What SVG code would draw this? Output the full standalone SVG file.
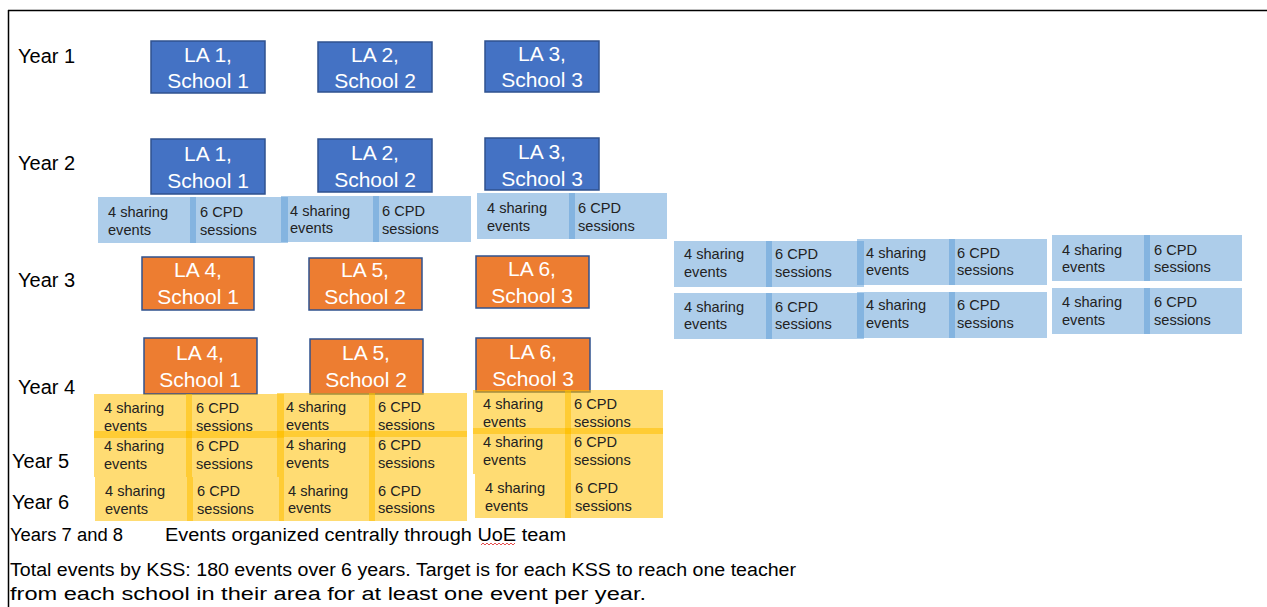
<svg xmlns="http://www.w3.org/2000/svg" width="1267" height="607" viewBox="0 0 1267 607">
<defs>
<style>
text{font-family:"Liberation Sans",Arial,sans-serif}
.yr{font-size:20px;fill:#000}
.bx{stroke:#2F528F;stroke-width:1.5}
.blue{fill:#4472C4}
.orange{fill:#ED7D31}
.bt{font-size:21px;fill:#fff;text-anchor:middle}
.lb{fill:#5B9BD5;fill-opacity:0.5}
.yl{fill:#FFC000;fill-opacity:0.55}
.st{font-size:14.6px;fill:#222}
.foot{font-size:18px;fill:#000}
</style>
</defs>
<rect width="1267" height="607" fill="#fff"/>
<g id="frame" stroke="#000" stroke-width="1.5" fill="none">
<line x1="8" y1="10.5" x2="1267" y2="10.5"/>
<line x1="8.5" y1="10" x2="8.5" y2="607"/>
</g>
<g id="year-labels">
<text class="yr" x="18" y="63">Year 1</text>
<text class="yr" x="18" y="170">Year 2</text>
<text class="yr" x="18" y="287">Year 3</text>
<text class="yr" x="18" y="394">Year 4</text>
<text class="yr" x="12" y="468">Year 5</text>
<text class="yr" x="12" y="509">Year 6</text>
</g>
<g id="y1-la1"><rect class="bx blue" x="151" y="41" width="114" height="52"/><text class="bt" x="208" y="62">LA 1,</text><text class="bt" x="208" y="88">School 1</text></g>
<g id="y1-la2"><rect class="bx blue" x="318" y="42" width="114" height="50"/><text class="bt" x="375" y="62">LA 2,</text><text class="bt" x="375" y="88">School 2</text></g>
<g id="y1-la3"><rect class="bx blue" x="485" y="41" width="114" height="51"/><text class="bt" x="542" y="61">LA 3,</text><text class="bt" x="542" y="87">School 3</text></g>
<g id="y2-la1"><rect class="bx blue" x="151" y="139" width="114" height="55"/><text class="bt" x="208" y="161">LA 1,</text><text class="bt" x="208" y="188">School 1</text></g>
<g id="y2-la2"><rect class="bx blue" x="318" y="139" width="114" height="53"/><text class="bt" x="375" y="160">LA 2,</text><text class="bt" x="375" y="187">School 2</text></g>
<g id="y2-la3"><rect class="bx blue" x="485" y="138" width="114" height="52"/><text class="bt" x="542" y="159">LA 3,</text><text class="bt" x="542" y="186">School 3</text></g>
<g id="y3-la4"><rect class="bx orange" x="142" y="257" width="112" height="53"/><text class="bt" x="198" y="277">LA 4,</text><text class="bt" x="198" y="304">School 1</text></g>
<g id="y3-la5"><rect class="bx orange" x="309" y="258" width="113" height="52"/><text class="bt" x="365" y="277">LA 5,</text><text class="bt" x="365" y="304">School 2</text></g>
<g id="y3-la6"><rect class="bx orange" x="476" y="256" width="113" height="52"/><text class="bt" x="532" y="276">LA 6,</text><text class="bt" x="532" y="303">School 3</text></g>
<g id="y4-la4"><rect class="bx orange" x="144" y="338" width="113" height="56"/><text class="bt" x="200" y="360">LA 4,</text><text class="bt" x="200" y="387">School 1</text></g>
<g id="y4-la5"><rect class="bx orange" x="310" y="339" width="113" height="55"/><text class="bt" x="366" y="360">LA 5,</text><text class="bt" x="366" y="387">School 2</text></g>
<g id="y4-la6"><rect class="bx orange" x="476" y="338" width="114" height="54"/><text class="bt" x="533" y="359">LA 6,</text><text class="bt" x="533" y="386">School 3</text></g>
<g id="y2-bars">
<g id="y2b1"><rect class="lb" x="98" y="197" width="98" height="46"/><rect class="lb" x="190" y="197" width="98" height="46"/><text class="st" x="108" y="217">4 sharing</text><text class="st" x="108" y="235">events</text><text class="st" x="200" y="217">6 CPD</text><text class="st" x="200" y="235">sessions</text></g>
<g id="y2b2"><rect class="lb" x="281" y="196" width="98" height="46"/><rect class="lb" x="373" y="196" width="98" height="46"/><text class="st" x="290" y="216">4 sharing</text><text class="st" x="290" y="233">events</text><text class="st" x="382" y="216">6 CPD</text><text class="st" x="382" y="234">sessions</text></g>
<g id="y2b3"><rect class="lb" x="477" y="193" width="98" height="46"/><rect class="lb" x="569" y="193" width="98" height="46"/><text class="st" x="487" y="213">4 sharing</text><text class="st" x="487" y="231">events</text><text class="st" x="578" y="213">6 CPD</text><text class="st" x="578" y="231">sessions</text></g>
</g>
<g id="right-bars">
<g id="rA1"><rect class="lb" x="674" y="241" width="98" height="46"/><rect class="lb" x="766" y="241" width="98" height="46"/><text class="st" x="684" y="259">4 sharing</text><text class="st" x="684" y="277">events</text><text class="st" x="775" y="259">6 CPD</text><text class="st" x="775" y="277">sessions</text></g>
<g id="rA2"><rect class="lb" x="857" y="239" width="98" height="46"/><rect class="lb" x="949" y="239" width="98" height="46"/><text class="st" x="866" y="258">4 sharing</text><text class="st" x="866" y="275">events</text><text class="st" x="957" y="258">6 CPD</text><text class="st" x="957" y="275">sessions</text></g>
<g id="rA3"><rect class="lb" x="1052" y="235" width="98" height="46"/><rect class="lb" x="1144" y="235" width="98" height="46"/><text class="st" x="1062" y="255">4 sharing</text><text class="st" x="1062" y="272">events</text><text class="st" x="1154" y="255">6 CPD</text><text class="st" x="1154" y="272">sessions</text></g>
<g id="rB1"><rect class="lb" x="674" y="293" width="98" height="46"/><rect class="lb" x="766" y="293" width="98" height="46"/><text class="st" x="684" y="312">4 sharing</text><text class="st" x="684" y="329">events</text><text class="st" x="775" y="312">6 CPD</text><text class="st" x="775" y="329">sessions</text></g>
<g id="rB2"><rect class="lb" x="857" y="292" width="98" height="46"/><rect class="lb" x="949" y="292" width="98" height="46"/><text class="st" x="866" y="310">4 sharing</text><text class="st" x="866" y="328">events</text><text class="st" x="957" y="310">6 CPD</text><text class="st" x="957" y="328">sessions</text></g>
<g id="rB3"><rect class="lb" x="1052" y="288" width="98" height="46"/><rect class="lb" x="1144" y="288" width="98" height="46"/><text class="st" x="1062" y="307">4 sharing</text><text class="st" x="1062" y="325">events</text><text class="st" x="1154" y="307">6 CPD</text><text class="st" x="1154" y="325">sessions</text></g>
</g>
<g id="yellow-bars">
<g id="y4b1"><rect class="yl" x="94" y="394" width="98" height="44"/><rect class="yl" x="186" y="394" width="98" height="44"/><text class="st" x="104" y="413">4 sharing</text><text class="st" x="104" y="431">events</text><text class="st" x="196" y="413">6 CPD</text><text class="st" x="196" y="431">sessions</text></g>
<g id="y4b2"><rect class="yl" x="277" y="393" width="98" height="44"/><rect class="yl" x="369" y="393" width="98" height="44"/><text class="st" x="286" y="412">4 sharing</text><text class="st" x="286" y="430">events</text><text class="st" x="378" y="412">6 CPD</text><text class="st" x="378" y="430">sessions</text></g>
<g id="y4b3"><rect class="yl" x="473" y="390" width="98" height="44"/><rect class="yl" x="565" y="390" width="98" height="44"/><text class="st" x="483" y="409">4 sharing</text><text class="st" x="483" y="427">events</text><text class="st" x="574" y="409">6 CPD</text><text class="st" x="574" y="427">sessions</text></g>
<g id="y5b1"><rect class="yl" x="94" y="431" width="98" height="46"/><rect class="yl" x="186" y="431" width="98" height="46"/><text class="st" x="104" y="451">4 sharing</text><text class="st" x="104" y="469">events</text><text class="st" x="196" y="451">6 CPD</text><text class="st" x="196" y="469">sessions</text></g>
<g id="y5b2"><rect class="yl" x="277" y="431" width="98" height="46"/><rect class="yl" x="369" y="431" width="98" height="46"/><text class="st" x="286" y="450">4 sharing</text><text class="st" x="286" y="468">events</text><text class="st" x="378" y="450">6 CPD</text><text class="st" x="378" y="468">sessions</text></g>
<g id="y5b3"><rect class="yl" x="473" y="428" width="98" height="46"/><rect class="yl" x="565" y="428" width="98" height="46"/><text class="st" x="483" y="447">4 sharing</text><text class="st" x="483" y="465">events</text><text class="st" x="574" y="447">6 CPD</text><text class="st" x="574" y="465">sessions</text></g>
<g id="y6b1"><rect class="yl" x="95" y="477" width="98" height="44"/><rect class="yl" x="187" y="477" width="97" height="44"/><text class="st" x="105" y="496">4 sharing</text><text class="st" x="105" y="514">events</text><text class="st" x="197" y="496">6 CPD</text><text class="st" x="197" y="514">sessions</text></g>
<g id="y6b2"><rect class="yl" x="279" y="477" width="96" height="44"/><rect class="yl" x="369" y="477" width="98" height="44"/><text class="st" x="288" y="496">4 sharing</text><text class="st" x="288" y="513">events</text><text class="st" x="378" y="496">6 CPD</text><text class="st" x="378" y="513">sessions</text></g>
<g id="y6b3"><rect class="yl" x="475" y="474" width="96" height="44"/><rect class="yl" x="565" y="474" width="98" height="44"/><text class="st" x="485" y="493">4 sharing</text><text class="st" x="485" y="511">events</text><text class="st" x="575" y="493">6 CPD</text><text class="st" x="575" y="511">sessions</text></g>
</g>
<g id="footer">
<text class="foot" x="10" y="541" textLength="113" lengthAdjust="spacingAndGlyphs">Years 7 and 8</text>
<text class="foot" x="165" y="541" textLength="401" lengthAdjust="spacingAndGlyphs">Events organized centrally through UoE team</text>
<path d="M481 545 l2 -2 l2 2 l2 -2 l2 2 l2 -2 l2 2 l2 -2 l2 2 l2 -2 l2 2 l2 -2 l2 2 l2 -2 l2 2 l2 -2 l2 2 l2 -2" fill="none" stroke="#e02020" stroke-width="0.8"/>
<text class="foot" x="10" y="576" textLength="786" lengthAdjust="spacingAndGlyphs">Total events by KSS: 180 events over 6 years. Target is for each KSS to reach one teacher</text>
<text class="foot" x="10" y="600" textLength="636" lengthAdjust="spacingAndGlyphs">from each school in their area for at least one event per year.</text>
</g>
</svg>
